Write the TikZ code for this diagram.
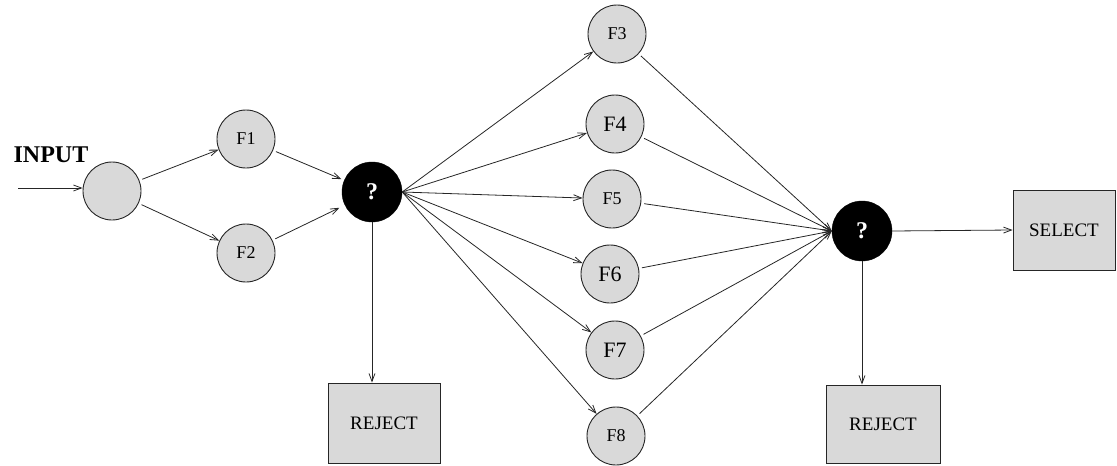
\documentclass[tikz,border=0pt]{standalone}
\usepackage{fontspec}
\setmainfont{Liberation Serif}
\usetikzlibrary{arrows.meta}
\definecolor{nodegray}{RGB}{217,217,217}
\tikzset{
  fnode/.style={circle, draw=black!85, line width=0.9pt, fill=nodegray, minimum size=58pt, inner sep=0pt},
  qnode/.style={circle, draw=black, fill=black, minimum size=60pt, inner sep=0pt, text=white, font=\fontsize{24}{26}\selectfont\bfseries},
  boxnode/.style={rectangle, draw=black!85, line width=0.9pt, fill=nodegray, inner sep=0pt, font=\fontsize{19}{21}\selectfont},
  conn/.style={draw=black!85, line width=0.8pt, -{Straight Barb[length=8pt,width=6pt]}},
  small/.style={font=\fontsize{18}{20}\selectfont},
  big/.style={font=\fontsize{22}{24}\selectfont},
}
\begin{document}
\begin{tikzpicture}[x=1pt,y=-1pt]
\useasboundingbox (0,0) rectangle (1117,466);
\node[fnode] (in) at (112,191) {};
\node[font=\fontsize{24}{26}\selectfont\bfseries, anchor=base] (inlabel) at (51,162) {INPUT};
\coordinate (src) at (18,188);
\node[fnode, small] (f1) at (246,139) {F1};
\node[fnode, small] (f2) at (246,253) {F2};
\node[qnode] (q1) at (372,192) {?};
\node[boxnode, minimum width=112pt, minimum height=80pt] (r1) at (384,423) {REJECT};
\node[fnode, small] (f3) at (617,34) {F3};
\node[fnode, big] (f4) at (615,124) {F4};
\node[fnode, small] (f5) at (612,199) {F5};
\node[fnode, big] (f6) at (610,274) {F6};
\node[fnode, big] (f7) at (615,350) {F7};
\node[fnode, small] (f8) at (616,436) {F8};
\node[qnode] (q2) at (862,231) {?};
\node[boxnode, minimum width=102pt, minimum height=80pt] (sel) at (1064,230) {SELECT};
\node[boxnode, minimum width=114pt, minimum height=78pt] (r2) at (883,424) {REJECT};

\draw[conn] (src) -- (src -| in.west);
\draw[conn, shorten <=3pt] (in) -- (f1);
\draw[conn, shorten <=3pt] (in) -- (f2);
\draw[conn, shorten <=3pt, shorten >=3pt] (f1) -- (q1);
\draw[conn, shorten <=3pt, shorten >=6pt] (f2) -- (q1);
\foreach \f in {f3,f4,f5,f6,f7,f8} {
  \draw[conn] (q1.east) -- (\f);
  \draw[conn, shorten <=3pt] (\f) -- (q2.west);
}
\draw[conn] (q1.south) -- (q1.south |- r1.north);
\draw[conn] (q2.south) -- (q2.south |- r2.north);
\draw[conn] (q2.east) -- (sel.west);
\end{tikzpicture}
\end{document}
